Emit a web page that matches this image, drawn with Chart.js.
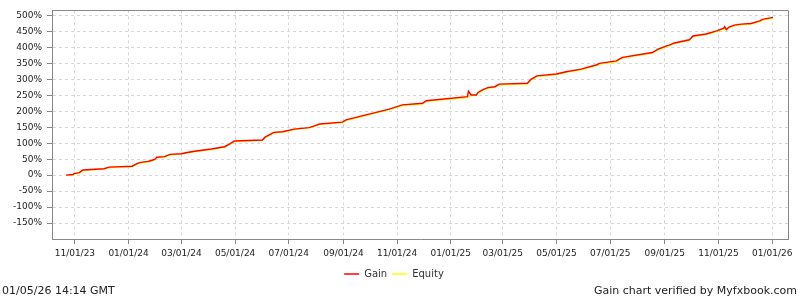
<!DOCTYPE html>
<html>
<head>
<meta charset="utf-8">
<script src="https://cdn.jsdelivr.net/npm/chart.js@4/dist/chart.umd.min.js"></script>
<style>
  html, body { margin: 0; padding: 0; background: #fff; }
  #wrap { width: 800px; height: 300px; }
</style>
</head>
<body>
<div id="wrap"><canvas id="gainChart" width="800" height="300"></canvas></div>
<script>
// Datas e valores (ganho em %)
const dates = [
  "2023-10-22", "2023-10-30", "2023-10-31", "2023-11-06", "2023-11-10", "2023-12-04", "2023-12-10",
  "2024-01-05", "2024-01-11", "2024-01-15", "2024-01-23", "2024-01-27", "2024-01-31", "2024-02-02",
  "2024-02-11", "2024-02-17", "2024-03-01", "2024-03-06", "2024-03-16", "2024-04-04", "2024-04-19",
  "2024-04-25", "2024-04-30", "2024-06-01", "2024-06-04", "2024-06-14", "2024-06-24", "2024-07-07",
  "2024-07-24", "2024-07-31", "2024-08-05", "2024-08-31", "2024-09-04", "2024-10-23", "2024-11-07",
  "2024-11-30", "2024-12-04", "2025-01-20", "2025-01-21", "2025-01-24", "2025-01-30", "2025-02-01",
  "2025-02-06", "2025-02-12", "2025-02-20", "2025-02-25", "2025-03-29", "2025-04-02", "2025-04-09",
  "2025-05-01", "2025-05-12", "2025-05-29", "2025-06-15", "2025-06-19", "2025-07-08", "2025-07-15",
  "2025-08-18", "2025-08-24", "2025-09-03", "2025-09-06", "2025-09-12", "2025-09-29", "2025-10-03",
  "2025-10-18", "2025-10-30", "2025-11-07", "2025-11-08", "2025-11-10", "2025-11-13", "2025-11-19",
  "2025-11-27", "2025-12-08", "2025-12-18", "2025-12-21", "2026-01-02"
];
const gain = [
  0, 2, 5, 8, 16, 20, 25,
  28, 37, 40, 43, 46, 50, 56,
  58, 65, 67, 70, 75, 82, 89,
  98, 107, 110, 119, 134, 136, 144,
  149, 155, 160, 166, 173, 207, 220,
  225, 233, 246, 263, 251, 251, 259,
  267, 274, 277, 285, 288, 300, 311,
  317, 324, 332, 345, 350, 358, 369,
  384, 394, 405, 407, 414, 424, 436,
  442, 452, 460, 465, 456, 464, 470,
  473, 475, 483, 488, 494
];
const equity = [
  0, 1, 3, 6, 14, 19, 24,
  27, 35, 39, 41, 45, 48, 55,
  57, 63, 66, 68, 74, 80, 88,
  96, 105, 109, 117, 132, 135, 143,
  148, 154, 159, 165, 171, 205, 218,
  223, 231, 243, 248, 249, 250, 257,
  265, 272, 275, 283, 285, 298, 309,
  315, 322, 330, 343, 348, 355, 367,
  382, 392, 403, 405, 412, 422, 434,
  440, 450, 458, 459, 455, 462, 468,
  471, 473, 481, 486, 492
];
const xTickDates = [
  "2023-11-01", "2024-01-01", "2024-03-01", "2024-05-01", "2024-07-01", "2024-09-01", "2024-11-01",
  "2025-01-01", "2025-03-01", "2025-05-01", "2025-07-01", "2025-09-01", "2025-11-01", "2026-01-01"
];
const yTicks = [-150, -100, -50, 0, 50, 100, 150, 200, 250, 300, 350, 400, 450, 500];

const FONT = "'DejaVu Sans', sans-serif";

function toMs(d) { return Date.parse(d + "T00:00:00Z"); }

function fmtDate(ms) {
  const d = new Date(ms);
  const mm = String(d.getUTCMonth() + 1).padStart(2, "0");
  const dd = String(d.getUTCDate()).padStart(2, "0");
  const yy = String(d.getUTCFullYear() % 100).padStart(2, "0");
  return mm + "/" + dd + "/" + yy;
}

const gainPoints = dates.map((d, i) => ({ x: toMs(d), y: gain[i] }));
const equityPoints = dates.map((d, i) => ({ x: toMs(d), y: equity[i] }));

// Moldura e rodapé
const framePlugin = {
  id: "frame",
  beforeDatasetsDraw(chart) {
    const a = chart.chartArea, c = chart.ctx;
    c.save();
    c.strokeStyle = "#888888";
    c.lineWidth = 1;
    c.setLineDash([]);
    c.beginPath();
    c.moveTo(a.left, Math.round(a.top) + 0.5);
    c.lineTo(a.right, Math.round(a.top) + 0.5);
    c.moveTo(Math.round(a.right) + 0.5, a.top);
    c.lineTo(Math.round(a.right) + 0.5, a.bottom);
    c.stroke();
    c.restore();
  },
  afterDraw(chart) {
    const c = chart.ctx;
    c.save();
    c.font = "11px " + FONT;
    c.fillStyle = "#222222";
    c.textBaseline = "middle";
    c.textAlign = "left";
    c.fillText("01/05/26 14:14 GMT", 2, 291);
    c.textAlign = "right";
    c.fillText("Gain chart verified by Myfxbook.com", 797, 291);
    c.restore();
  }
};

new Chart(document.getElementById("gainChart"),
{
  type: "line",
  data:
  {
    datasets: [
    {
      label: "Gain",
      data: gainPoints,
      borderColor: "#ff0000",
      backgroundColor: "#ff0000",
      borderWidth: 1.4,
      pointRadius: 0,
      tension: 0
    },
    {
      label: "Equity",
      data: equityPoints,
      borderColor: "#ffff00",
      backgroundColor: "#ffff00",
      borderWidth: 1.4,
      pointRadius: 0,
      tension: 0
    }]
  },
  options:
  {
    responsive: false,
    animation: false,
    layout: { padding: { left: 0, right: 12, top: 10, bottom: 11 } },
    plugins:
    {
      tooltip: { enabled: false },
      legend:
      {
        position: "bottom",
        labels:
        {
          font: { family: FONT, size: 10 },
          color: "#333333",
          boxWidth: 15,
          boxHeight: 0,
          padding: 5
        }
      }
    },
    scales:
    {
      x:
      {
        type: "linear",
        min: toMs("2023-10-06"),
        max: toMs("2026-01-19"),
        afterBuildTicks: (scale) => { scale.ticks = xTickDates.map(d => ({ value: toMs(d) })); },
        afterFit: (scale) => { scale.height = 25; },
        grid:
        {
          color: "#d6d6d6",
          tickColor: "#888888",
          tickLength: 5
        },
        border: { color: "#888888", width: 1, dash: [3, 3] },
        ticks:
        {
          autoSkip: false,
          maxRotation: 0,
          padding: 4,
          color: "#222222",
          font: { family: FONT, size: 9 },
          callback: (v) => fmtDate(v)
        }
      },
      y:
      {
        min: -200,
        max: 516,
        afterBuildTicks: (scale) => { scale.ticks = yTicks.map(v => ({ value: v })); },
        afterFit: (scale) => { scale.width = 52; },
        grid:
        {
          color: "#d6d6d6",
          tickColor: "#888888",
          tickLength: 5
        },
        border: { color: "#888888", width: 1, dash: [3, 3] },
        ticks:
        {
          padding: 5,
          color: "#222222",
          font: { family: FONT, size: 9 },
          callback: (v) => v + "%"
        }
      }
    }
  },
  plugins: [framePlugin]
});
</script>
</body>
</html>
